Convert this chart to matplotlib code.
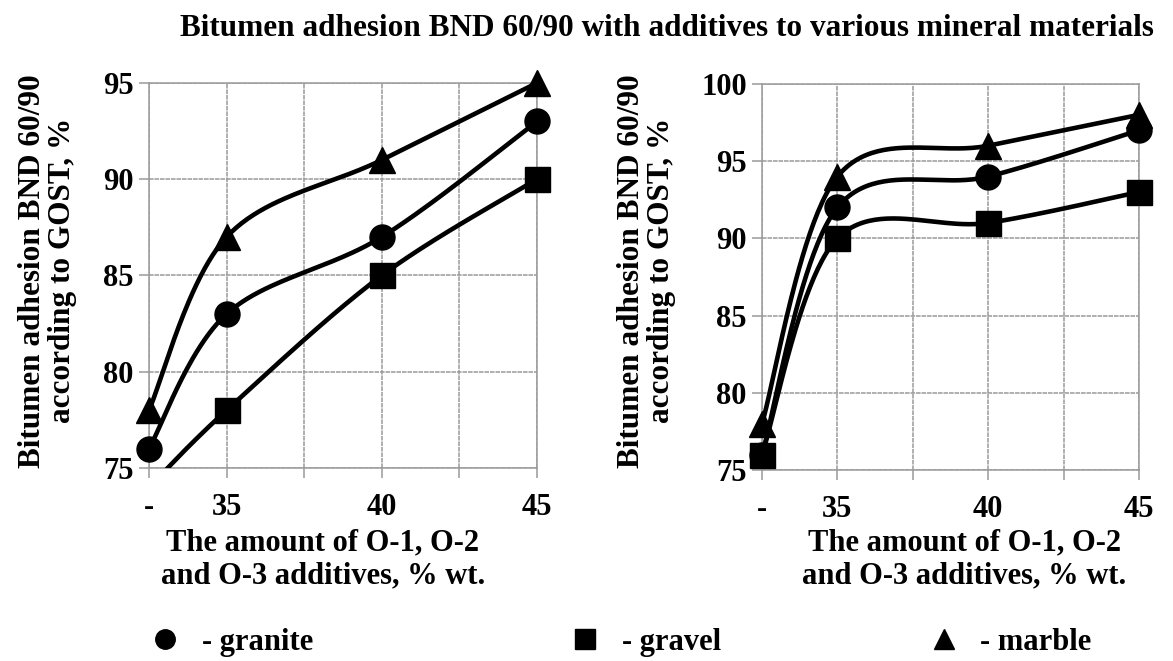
import numpy as np
import matplotlib.pyplot as plt
from matplotlib.lines import Line2D

# x positions: "-" is the control sample, drawn one half-step left of 35
x_vals = [32.5, 35, 40, 45]
x_ticks = [32.5, 35, 37.5, 40, 42.5, 45]
x_ticklabels = ["-", "35", "", "40", "", "45"]

# left panel
left_granite = [76, 83, 87, 93]
left_gravel = [74, 78, 85, 90]
left_marble = [78, 87, 91, 95]
left_yticks = [75, 80, 85, 90, 95]

# right panel
right_granite = [76, 92, 94, 97]
right_gravel = [76, 90, 91, 93]
right_marble = [78, 94, 96, 98]
right_yticks = [75, 80, 85, 90, 95, 100]

series_names = ["granite", "gravel", "marble"]
markers = {"granite": "o", "gravel": "s", "marble": "^"}

title = "Bitumen adhesion BND 60/90 with additives to various mineral materials"
ylabel = "Bitumen adhesion BND 60/90\naccording to GOST, %"
xlabel = "The amount of O-1, O-2\nand O-3 additives, % wt."

plt.rcParams["font.family"] = ["Liberation Serif", "DejaVu Serif"]
plt.rcParams["font.weight"] = "bold"


def catmull_rom(x, y, n=50):
    # smoothed line like a spreadsheet "smooth line" series
    p = np.column_stack([x, y]).astype(float)
    p = np.vstack([p[0], p, p[-1]])
    t = np.linspace(0, 1, n)[:, None]
    out = []
    for i in range(1, len(p) - 2):
        p0, p1, p2, p3 = p[i - 1], p[i], p[i + 1], p[i + 2]
        seg = 0.5 * ((2 * p1) + (-p0 + p2) * t
                     + (2 * p0 - 5 * p1 + 4 * p2 - p3) * t ** 2
                     + (-p0 + 3 * p1 - 3 * p2 + p3) * t ** 3)
        out.append(seg if i == 1 else seg[1:])
    out = np.vstack(out)
    return out[:, 0], out[:, 1]


fig = plt.figure(figsize=(11.73, 6.61), dpi=100)
ax1 = fig.add_axes([0.1270, 0.2920, 0.3308, 0.5825])
ax2 = fig.add_axes([0.6496, 0.2890, 0.3214, 0.5840])

panels = [
    (ax1, {"granite": left_granite, "gravel": left_gravel, "marble": left_marble}, left_yticks),
    (ax2, {"granite": right_granite, "gravel": right_gravel, "marble": right_marble}, right_yticks),
]

grid_col = "#9a9a9a"
for ax, data, yticks in panels:
    ylo, yhi = yticks[0], yticks[-1]
    for name in series_names:
        ys = np.array(data[name], dtype=float)
        sx, sy = catmull_rom(x_vals, ys)
        ax.plot(sx, sy, color="black", lw=3.3, solid_capstyle="round", zorder=3)
        keep = ys >= ylo
        ax.plot(np.array(x_vals)[keep], ys[keep], ls="none", marker=markers[name],
                ms=18 if name != "marble" else 19, color="black", clip_on=False, zorder=4)
    ax.set_xlim(32.5, 45)
    ax.set_ylim(ylo, yhi)
    ax.set_xticks(x_ticks)
    ax.set_xticklabels(x_ticklabels)
    ax.set_yticks(yticks)
    ax.grid(True, color=grid_col, lw=1.1, ls=(0, (3, 0.6)))
    for s in ax.spines.values():
        s.set_color(grid_col)
        s.set_linewidth(1.1)
    ax.tick_params(colors=grid_col, length=7, width=1.1, labelcolor="black", labelsize=22)
    ax.tick_params(axis="x", pad=11)
    ax.tick_params(axis="y", pad=4)
    for lab in ax.get_xticklabels() + ax.get_yticklabels():
        lab.set_fontweight("bold")
    ax.set_ylabel(ylabel, fontsize=22.5, fontweight="bold", linespacing=1.05)
    ax.set_xlabel(xlabel, fontsize=22, fontweight="bold", linespacing=1.15, va="top")

ax1.yaxis.set_label_coords(-0.185, 0.512)
ax2.yaxis.set_label_coords(-0.228, 0.516)
ax1.xaxis.set_label_coords(0.448, -0.158)
ax2.xaxis.set_label_coords(0.536, -0.152)

fig.text(0.569, 0.957, title, ha="center", va="center", fontsize=22.5, fontweight="bold")

# legend along the bottom
legend_x = [0.1176, 0.4757, 0.781]
for name, lx in zip(series_names, legend_x):
    h = Line2D([], [], ls="none", marker=markers[name], color="black", ms=14)
    fig.legend([h], ["- " + name], loc="center left", bbox_to_anchor=(lx, 0.028),
               frameon=False, prop={"size": 22, "weight": "bold"},
               handlelength=0.8, handletextpad=0.8, borderpad=0)

fig.savefig("out.png", dpi=100)
plt.close(fig)
